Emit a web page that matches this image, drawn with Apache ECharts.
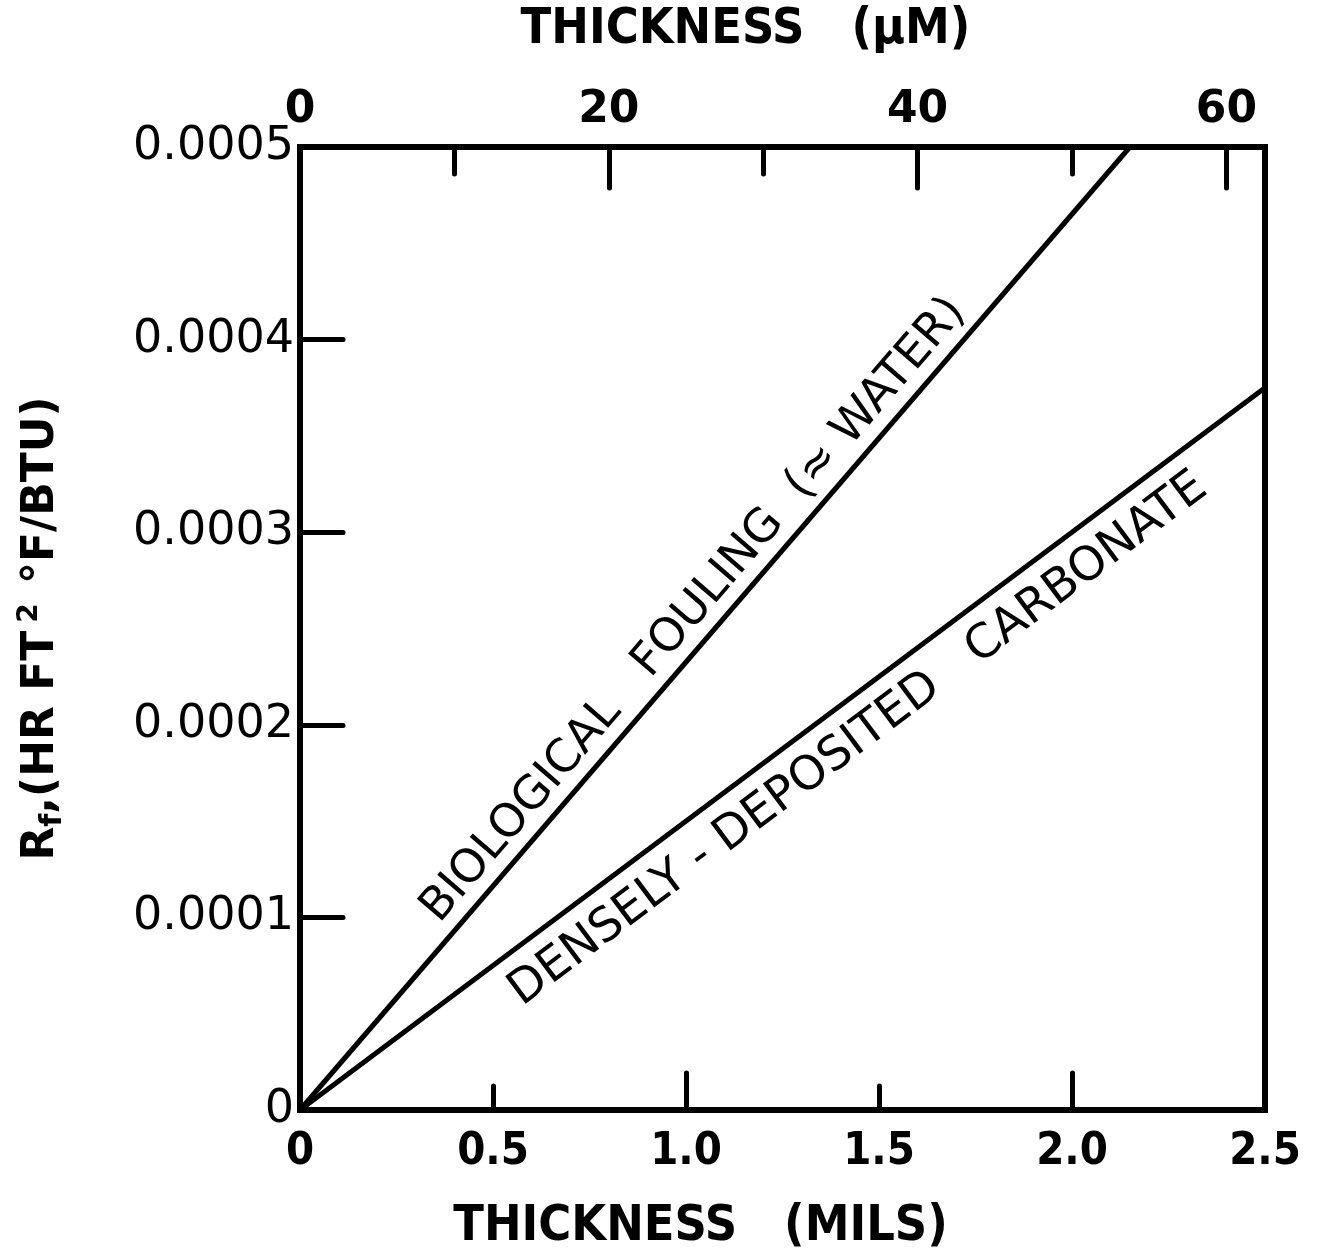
<!DOCTYPE html>
<html>
<head>
<meta charset="utf-8">
<script src="https://cdn.jsdelivr.net/npm/echarts@6/dist/echarts.min.js"></script>
<style>
  html, body { margin: 0; padding: 0; background: #fff; }
  #chart { width: 1317px; height: 1254px; }
</style>
</head>
<body>
<div id="chart"></div>
<script>
// thickness in mils, fouling resistance in hr ft2 F/BTU
const bioX = [0, 2.15];
const bioY = [0, 0.0005];
const carbX = [0, 2.5];
const carbY = [0, 0.000375];

const milLabels = [0, 0.5, 1.0, 1.5, 2.0, 2.5];
const milMajorTicks = [1.0, 2.0];
const milMinorTicks = [0.5, 1.5];
const umLabels = [0, 20, 40, 60];
const umMajorTicks = [20, 40, 60];
const umMinorTicks = [10, 30, 50];

const bioText = "BIOLOGICAL   FOULING  (\u2248 WATER)";
const carbText = "DENSELY - DEPOSITED   CARBONATE";

const font = "DejaVu Sans";
const narrow = "'DejaVu Sans Condensed', 'Liberation Sans Narrow', 'DejaVu Sans'";
const black = "#000";

const chart = echarts.init(document.getElementById("chart"));

const pts = (xs, ys) => xs.map((x, i) => [x, ys[i]]);

const baseX = {
  type: "value",
  min: 0,
  max: 2.5,
  splitLine: { show: false },
};

const titleStyle = {
  color: black,
  fontFamily: narrow,
  fontWeight: "bold",
  fontSize: 50,
};

const option = {
  animation: false,
  backgroundColor: "#fff",
  grid: {
    left: 300,
    right: 52,
    top: 147,
    bottom: 144,
    outerBoundsMode: "none",
    show: true,
    borderColor: black,
    borderWidth: 6,
  },
  xAxis: [
    {
      ...baseX,
      position: "bottom",
      axisLine: { show: true, lineStyle: { color: black, width: 6 } },
      axisTick: {
        show: true,
        inside: true,
        length: 37,
        customValues: milMajorTicks,
        lineStyle: { color: black, width: 5, cap: "round" },
      },
      axisLabel: {
        customValues: milLabels,
        formatter: (v) => (v === 0 ? "0" : v.toFixed(1)),
        color: black,
        fontFamily: narrow,
        fontWeight: "bold",
        fontSize: 45,
        margin: 20,
      },
      name: "THICKNESS   (MILS)",
      nameLocation: "middle",
      nameGap: 92,
      nameTextStyle: { ...titleStyle, padding: [0, 164, 0, 0] },
    },
    {
      ...baseX,
      max: 62.5,
      position: "top",
      axisLine: { show: true, lineStyle: { color: black, width: 6 } },
      axisTick: {
        show: true,
        inside: true,
        length: 41,
        customValues: umMajorTicks,
        lineStyle: { color: black, width: 5, cap: "round" },
      },
      axisLabel: {
        customValues: umLabels,
        color: black,
        fontFamily: font,
        fontWeight: "bold",
        fontSize: 44,
        margin: 14,
      },
      name: "THICKNESS   (\u03bcM)",
      nameLocation: "middle",
      nameGap: 92,
      nameTextStyle: { ...titleStyle, padding: [0, 74, 0, 0] },
    },
    {
      ...baseX,
      position: "bottom",
      axisLine: { show: false },
      axisTick: {
        show: true,
        inside: true,
        length: 24,
        customValues: milMinorTicks,
        lineStyle: { color: black, width: 5, cap: "round" },
      },
      axisLabel: { show: false },
    },
    {
      ...baseX,
      max: 62.5,
      position: "top",
      axisLine: { show: false },
      axisTick: {
        show: true,
        inside: true,
        length: 27,
        customValues: umMinorTicks,
        lineStyle: { color: black, width: 5, cap: "round" },
      },
      axisLabel: { show: false },
    },
  ],
  yAxis: {
    type: "value",
    min: 0,
    max: 0.0005,
    interval: 0.0001,
    splitLine: { show: false },
    axisLine: { show: true, lineStyle: { color: black, width: 6 } },
    axisTick: {
      show: true,
      inside: true,
      length: 43,
      lineStyle: { color: black, width: 5, cap: "round" },
    },
    axisLabel: {
      formatter: (v) => (v === 0 ? "0" : v.toFixed(4)),
      color: black,
      fontFamily: font,
      fontSize: 46,
      margin: 6,
    },
    name: "{r|R}{sub|f}{r|,(HR FT}{sup|2}{r| \u00b0F/BTU)}",
    nameLocation: "middle",
    nameGap: 232,
    nameRotate: 90,
    nameTextStyle: {
      rich: {
        r: { fontFamily: font, fontWeight: "bold", fontSize: 44, color: black },
        sub: {
          fontFamily: font,
          fontWeight: "bold",
          fontSize: 30,
          color: black,
          verticalAlign: "bottom",
          padding: [18, 0, 0, 0],
        },
        sup: {
          fontFamily: font,
          fontWeight: "bold",
          fontSize: 28,
          color: black,
          verticalAlign: "top",
          padding: [0, 4, 24, 8],
        },
      },
    },
  },
  series: [
    {
      type: "line",
      xAxisIndex: 0,
      data: pts(bioX, bioY),
      showSymbol: false,
      lineStyle: { color: black, width: 5 },
    },
    {
      type: "line",
      xAxisIndex: 0,
      data: pts(carbX, carbY),
      showSymbol: false,
      lineStyle: { color: black, width: 5 },
    },
  ],
};

chart.setOption(option);

// label placed along a line: t = fraction along, off = px perpendicular (+ = above)
function lineLabel(xs, ys, text, t, off, size) {
  const a = chart.convertToPixel({ gridIndex: 0 }, [xs[0], ys[0]]);
  const b = chart.convertToPixel({ gridIndex: 0 }, [xs[1], ys[1]]);
  const ang = Math.atan2(a[1] - b[1], b[0] - a[0]);
  const cx = a[0] + (b[0] - a[0]) * t - Math.sin(ang) * off;
  const cy = a[1] + (b[1] - a[1]) * t - Math.cos(ang) * off;
  return {
    type: "text",
    x: cx,
    y: cy,
    rotation: ang,
    style: {
      text: text,
      fontFamily: font,
      fontSize: size,
      fill: black,
      align: "center",
      verticalAlign: "middle",
    },
  };
}

chart.setOption({
  graphic: [
    lineLabel(bioX, bioY, bioText, 0.5, 28, 46),
    lineLabel(carbX, carbY, carbText, 0.555, -38, 47),
  ],
});

window.addEventListener("resize", () => chart.resize());
</script>
</body>
</html>
